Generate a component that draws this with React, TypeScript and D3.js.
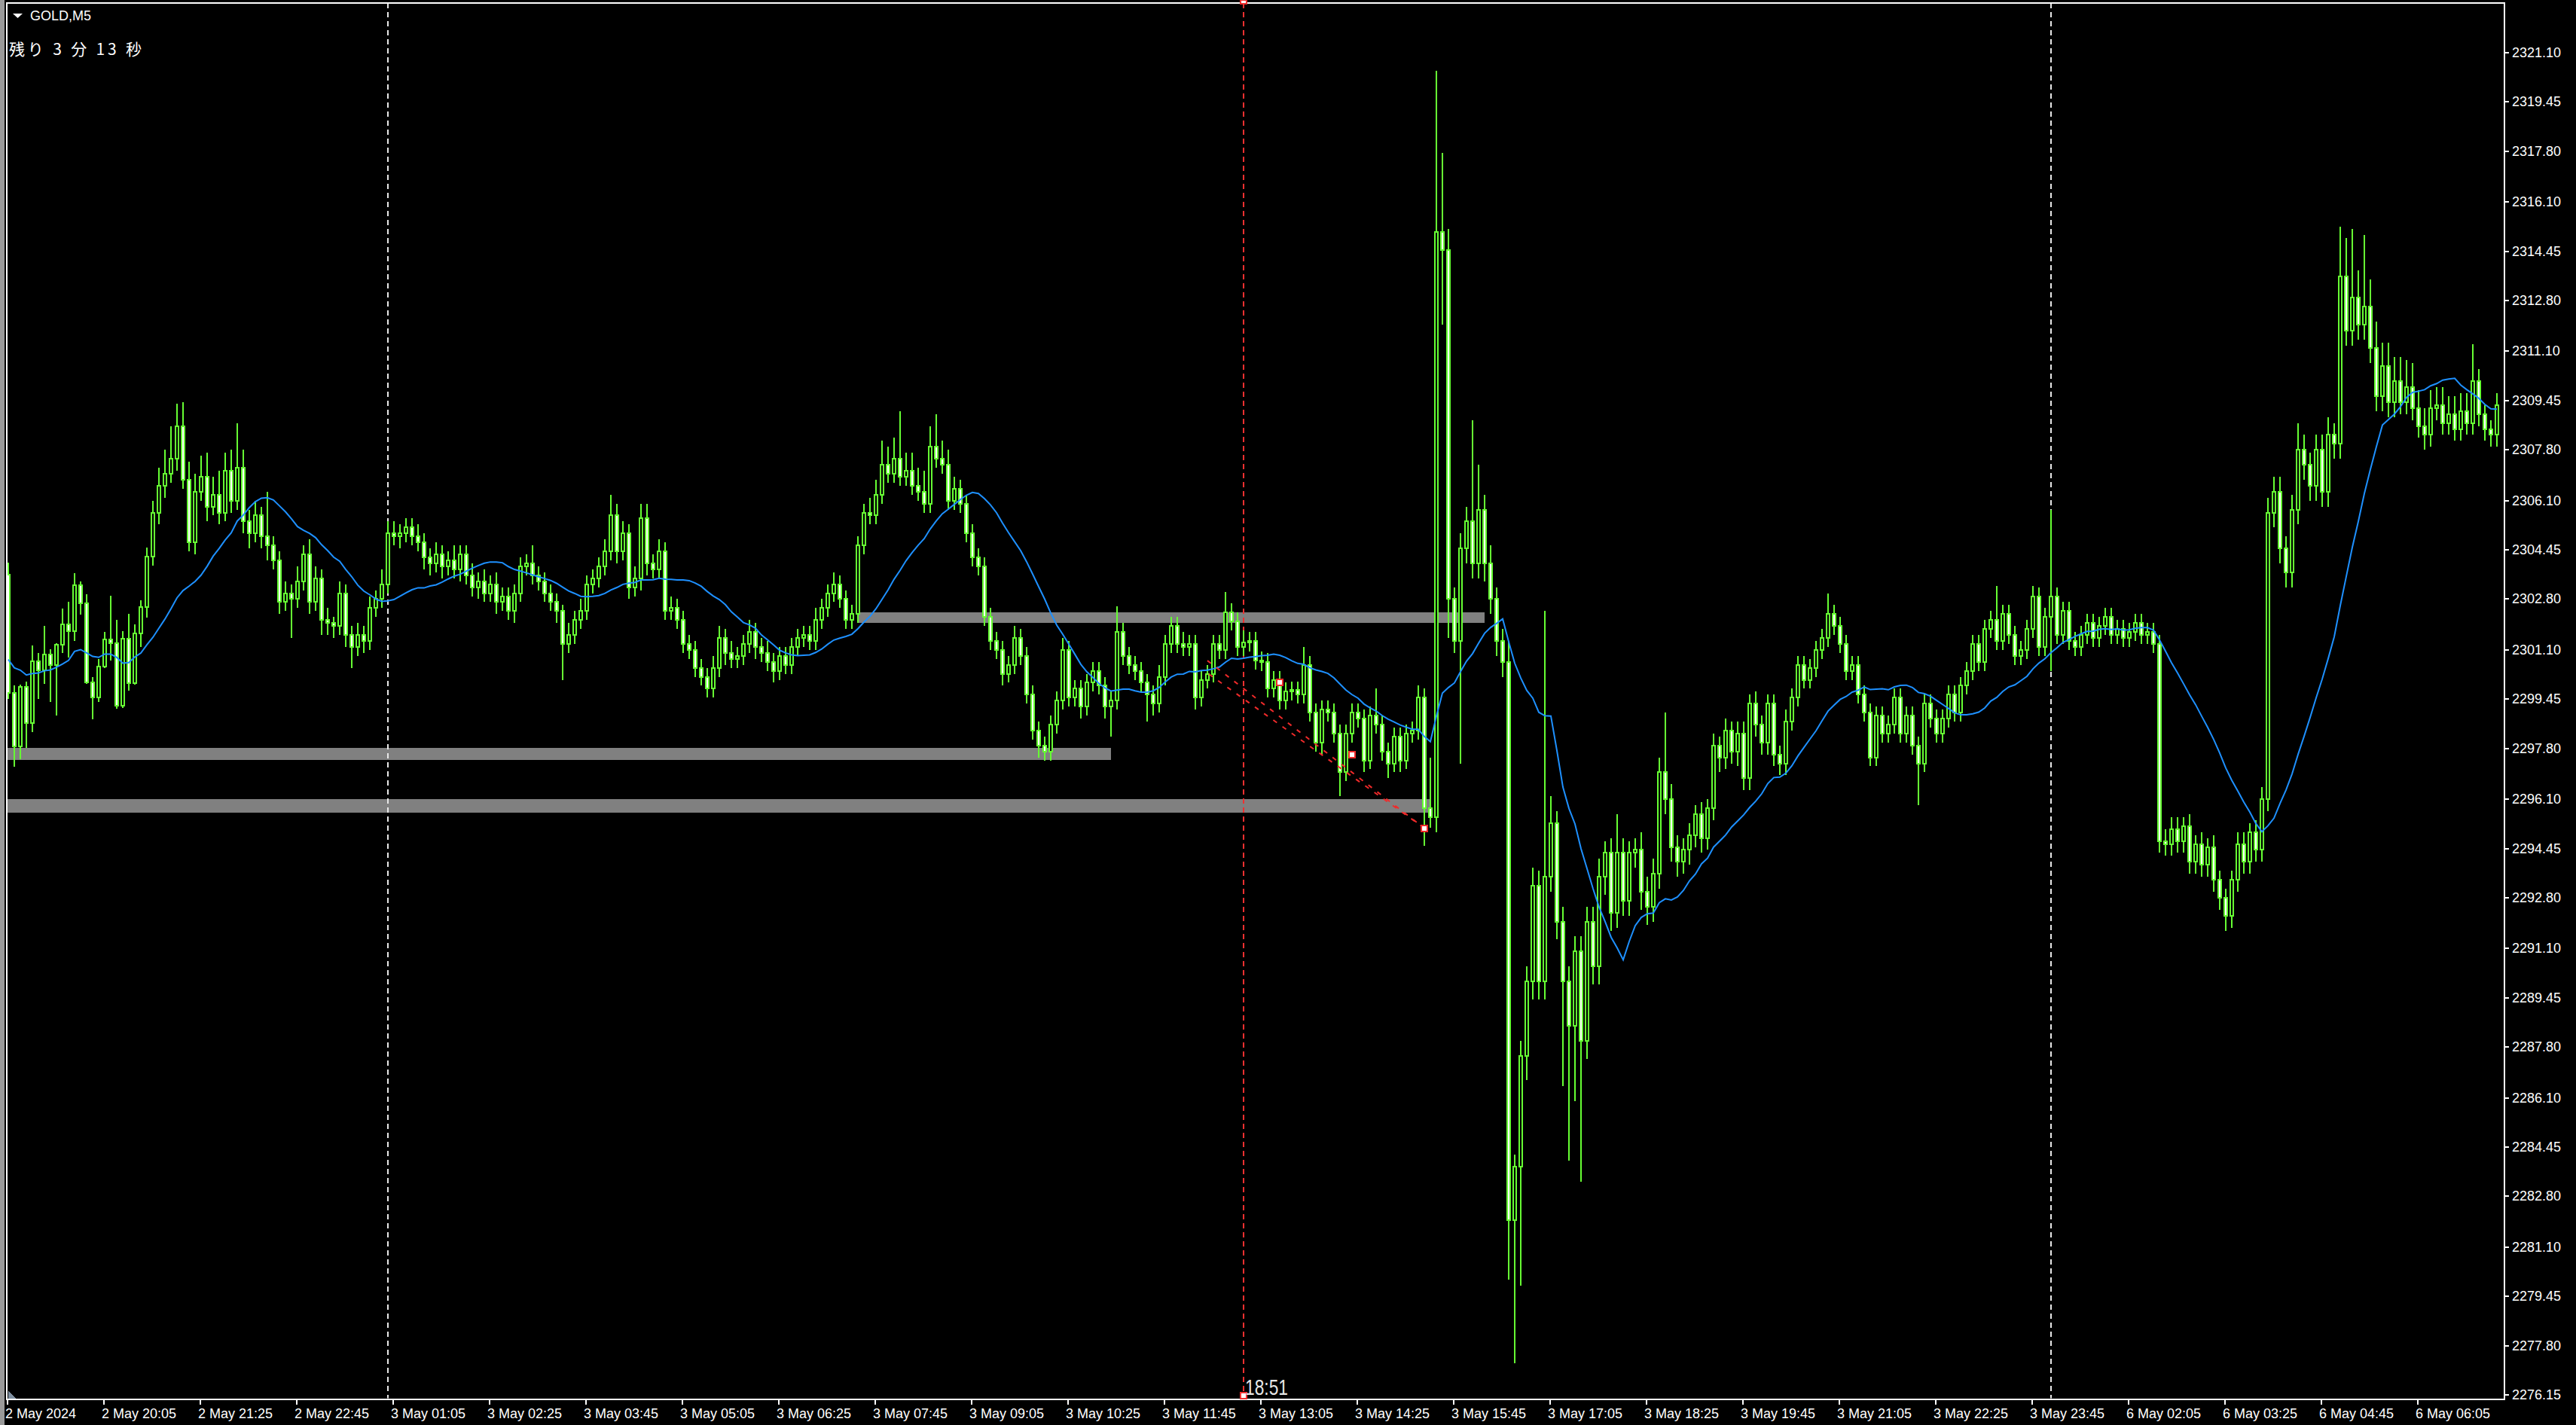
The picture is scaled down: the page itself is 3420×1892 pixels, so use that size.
import React from 'react';
import * as d3 from 'd3';

// ---------- data (GOLD M5) ----------
const firstOpen = 2303.61;

const closes = [
  2299.66, 2297.88, 2299.87, 2298.65, 2300.73, 2300.42, 2300.94, 2300.58, 2301.28, 2301.95,
  2301.72, 2303.26, 2302.65, 2300.01, 2299.51, 2300.53, 2301.44, 2301.32, 2299.24, 2301.48,
  2299.99, 2301.64, 2302.54, 2304.22, 2305.7, 2306.6, 2307.0, 2307.5, 2308.6, 2306.8,
  2304.7, 2306.4, 2306.9, 2305.9, 2306.3, 2305.7, 2307.1, 2306.1, 2307.2, 2305.4,
  2305.0, 2305.6, 2304.9, 2304.6, 2304.1, 2302.7, 2303.0, 2302.8, 2303.4, 2304.3,
  2302.7, 2303.5, 2302.1, 2302.0, 2301.9, 2303.0, 2301.6, 2301.2, 2301.6, 2301.4,
  2302.5, 2302.8, 2303.3, 2305.0, 2304.9, 2305.0, 2305.2, 2304.9, 2304.7, 2304.2,
  2304.0, 2304.3, 2303.9, 2304.1, 2303.8, 2304.3, 2303.6, 2303.2, 2303.4, 2303.0,
  2303.3, 2302.7, 2302.9, 2302.4, 2303.0, 2303.9, 2304.0, 2303.6, 2303.4, 2303.0,
  2302.7, 2302.4, 2301.3, 2301.6, 2302.1, 2302.4, 2303.3, 2303.5, 2303.9, 2304.4,
  2305.6, 2304.4, 2305.0, 2303.2, 2303.5, 2305.5, 2304.0, 2303.8, 2304.4, 2302.4,
  2302.5, 2302.1, 2301.3, 2301.1, 2300.5, 2300.2, 2299.8, 2300.5, 2301.5, 2301.0,
  2300.8, 2300.9, 2301.3, 2301.7, 2301.2, 2301.0, 2300.7, 2300.4, 2300.9, 2300.6,
  2301.2, 2301.5, 2301.6, 2301.4, 2302.1, 2302.5, 2303.0, 2303.3, 2302.8, 2302.1,
  2302.3, 2304.6, 2305.7, 2305.6, 2306.3, 2307.3, 2307.0, 2307.5, 2306.9, 2307.1,
  2306.6, 2306.4, 2306.0, 2307.9, 2307.5, 2307.3, 2306.1, 2306.5, 2306.0, 2305.0,
  2304.2, 2303.9, 2302.2, 2301.4, 2301.1, 2300.3, 2300.6, 2301.5, 2300.9, 2299.6,
  2298.4, 2297.9, 2297.7, 2298.6, 2299.4, 2301.1, 2299.5, 2299.8, 2299.2, 2300.0,
  2300.4, 2299.9, 2299.2, 2299.4, 2301.7, 2300.9, 2300.6, 2300.4, 2300.0, 2299.6,
  2299.3, 2300.2, 2301.3, 2301.9, 2301.3, 2301.2, 2301.3, 2299.5, 2300.1, 2300.3,
  2301.3, 2301.1, 2302.35, 2302.05, 2301.2, 2301.35, 2301.4, 2300.75, 2300.7, 2299.8,
  2300.1, 2299.4, 2299.7, 2299.75, 2299.6, 2300.6, 2299.0, 2298.0, 2299.1, 2299.0,
  2298.3, 2297.0, 2298.3, 2299.0, 2298.8, 2297.4, 2298.9, 2298.6, 2297.7, 2297.3,
  2298.2, 2297.4, 2298.3, 2298.4, 2299.5, 2295.8, 2295.5, 2315.1, 2314.5, 2302.8,
  2301.4, 2304.5, 2305.4, 2304.0, 2305.8, 2304.0, 2302.8, 2301.4, 2300.7, 2282.0,
  2283.8, 2287.5, 2290.0, 2293.2, 2290.0, 2293.5, 2295.3, 2292.0, 2290.0, 2288.5,
  2291.0, 2288.0, 2292.0, 2290.5, 2293.5, 2294.3, 2292.3, 2294.3, 2292.7, 2294.3,
  2294.4, 2293.0, 2292.5, 2293.6, 2297.0, 2296.1, 2294.5, 2294.0, 2294.4, 2294.9,
  2295.6, 2294.8, 2295.8, 2297.9, 2297.5, 2298.4, 2297.7, 2298.3, 2296.8, 2299.3,
  2298.6, 2298.0, 2299.3, 2297.6, 2297.3, 2298.7, 2299.5, 2300.6, 2300.1, 2300.5,
  2301.1, 2301.5, 2302.3, 2301.9, 2301.3, 2300.4, 2300.6, 2299.6, 2299.0, 2297.5,
  2298.9, 2298.3, 2298.6, 2299.5, 2298.3, 2298.9, 2297.9, 2297.3, 2299.3, 2298.8,
  2298.3, 2298.8, 2299.6, 2299.0, 2299.9, 2300.4, 2301.3, 2300.7, 2301.8, 2302.1,
  2301.4, 2302.3, 2301.6, 2300.9, 2301.1, 2301.8, 2302.9, 2301.2, 2302.2, 2302.9,
  2301.6, 2302.4, 2301.4, 2301.2, 2301.6, 2302.0, 2301.5, 2301.9, 2302.2, 2301.6,
  2301.8, 2301.5, 2301.7, 2302.0, 2301.6, 2301.7, 2301.3, 2294.7, 2294.6, 2295.1,
  2294.7, 2295.2, 2294.0, 2294.6, 2293.9, 2294.5, 2293.4, 2292.8, 2292.2, 2293.4,
  2294.6, 2294.0, 2295.0, 2294.4, 2296.1, 2305.7, 2306.4, 2304.5, 2303.7, 2305.8,
  2307.8, 2307.3, 2306.6, 2307.8, 2306.4, 2308.3, 2308.0, 2313.6, 2311.8, 2312.9,
  2312.0, 2312.6, 2311.2, 2309.6, 2310.6, 2309.4, 2310.1, 2309.4, 2309.9, 2309.2,
  2308.6, 2308.3, 2309.2, 2309.3, 2308.7, 2309.0, 2308.5, 2309.1, 2308.7, 2310.1,
  2309.0, 2308.5, 2308.3, 2309.3,
];

// wick lengths above the body top / below the body bottom (price units)
const upperWicks = [
  .42, .25, .06, .17, .53, .27, .96, .19, .05, .53,
  .76, .41, .12, .31, .18, .27, .25, 1.47, .78, .26,
  .83, .31, .21, .3, .4, .6, .8, 1.1, .75, .8,
  .6, .6, .7, .8, .6, .8, .6, .7, 1.5, .6,
  .4, .5, .3, 1.5, .3, .3, .4, .3, .5, .3,
  .5, .4, .3, .4, .2, .4, .3, .3, .4, .3,
  .4, .3, .5, .4, .4, .3, .3, .3, .4, .3,
  .3, .4, .3, .3, .5, .3, .3, .4, .3, .4,
  .3, .4, .3, .3, .3, .3, .3, .6, .3, .3,
  .3, .3, .2, .4, .3, .4, .3, .3, .3, .4,
  .7, .4, .4, .3, .4, .5, .5, .3, .4, .3,
  .4, .3, .3, .3, .3, .3, .3, .4, .4, .3,
  .4, .3, .3, .4, .3, .3, .4, .3, .3, .3,
  .3, .3, .3, .3, .4, .3, .3, .4, .3, .3,
  .3, .3, .3, .5, .5, .8, .6, .7, 1.6, .6,
  .6, .6, .7, .7, 1.1, .6, .5, .4, .3, .3,
  .3, .3, .3, .3, .3, .3, .3, .4, .3, .3,
  .3, .3, .3, .3, .3, .4, .3, .3, .3, .3,
  .3, .3, .3, .3, .85, .3, .3, .3, .3, .3,
  .3, .4, .3, .3, .3, .4, .3, .3, .3, .3,
  .3, .3, .7, .3, .3, .4, .3, .3, .3, .3,
  .3, .3, .3, .3, .3, .6, .3, .3, .3, .3,
  .3, .3, .3, .3, .3, .3, .3, .9, .3, .3,
  .3, .3, .3, .3, .4, .3, 1.7, 5.4, 2.65, .7,
  .4, .5, .5, 3.4, 1.5, .5, .6, .4, .4, .7,
  .4, .5, .5, .6, .5, 8.9, .9, .4, .5, .5,
  .5, .5, .5, .5, .6, .4, .5, 1.3, .5, .4,
  .4, .6, .5, .5, .5, 2.0, .5, .4, .4, .4,
  .3, .4, .3, .4, .3, .4, .3, .4, .4, .3,
  .4, .3, .3, .3, .3, .4, .3, .3, .3, .3,
  .3, .3, .7, .3, .3, .3, .3, .3, .3, .3,
  .3, .3, .3, .3, .3, .3, .3, .3, .3, .3,
  .3, .3, .3, .3, .3, .3, .3, .3, .3, .3,
  1.15, .3, .3, .3, .3, .3, .35, .3, .3, 2.9,
  .3, .3, .3, .3, .3, .3, .3, .3, .3, .3,
  .3, .3, .3, .3, .3, .3, .3, .3, .4, .4,
  .4, .3, .4, .3, .4, .3, .4, .3, .3, .3,
  .4, .4, .3, .4, .4, .5, .5, .5, .4, .5,
  .9, .5, .4, .5, .5, .6, .4, 1.67, 1.3, 2.3,
  .9, 2.4, .9, .9, .8, .8, .8, .8, .9, .8,
  .6, .6, .6, .6, .6, .6, .6, .6, .6, 1.25,
  .4, .3, .3, .4,
];

const lowerWicks = [
  .21, .7, .45, .84, .29, .97, .45, 1.23, 1.68, .28,
  .87, .31, .38, .05, .73, .16, .03, .57, .1, .09,
  .25, .05, .43, .36, .3, .4, .4, .3, .4, .3,
  .3, .4, .3, .5, .3, .4, .3, .4, .3, .4,
  .5, .3, .4, .5, .3, .4, .3, 1.3, .3, .3,
  .4, .3, .5, .4, .4, .3, .4, .7, .3, .4,
  .3, .3, .3, .3, .3, .4, .3, .3, .3, .4,
  .4, .3, .4, .3, .3, .4, .3, .3, .4, .3,
  .3, .4, .3, .3, .4, .3, .3, .3, .3, .3,
  .3, .4, 1.2, .3, .3, .3, .3, .3, .3, .3,
  .3, .4, .3, .4, .3, .4, .4, .3, .3, .3,
  .3, .3, .3, .3, .3, .3, .3, .3, .3, .4,
  .3, .3, .3, .3, .4, .3, .3, .4, .3, .3,
  .3, .3, .3, .3, .3, .3, .3, .3, .3, .3,
  .3, .3, .3, .3, .3, .3, .3, .3, .3, .3,
  .3, .3, .3, .3, .3, .3, .3, .3, .3, .3,
  .3, .3, .3, .3, .3, .4, .3, .3, .3, .3,
  .3, .4, .3, .3, .3, .3, .3, .3, .4, .3,
  .3, .3, .4, 1.0, .3, .3, .3, .3, .3, .9,
  .4, .3, .3, .3, .3, .3, .3, .4, .3, .3,
  .3, .3, .3, .3, .3, .3, .3, .3, .3, .3,
  .3, .3, .3, .3, .3, .3, .3, .3, .4, .3,
  .3, .8, .3, .3, .3, .4, .3, .3, .3, .5,
  .3, .4, .3, .3, .3, 1.27, .35, .5, 2.5, 1.3,
  .4, 4.1, .5, .5, .5, .6, .5, .5, .5, 2.0,
  4.8, 4.0, .8, .6, .6, .6, .5, .6, 3.5, 4.5,
  2.5, 4.7, .6, .6, .6, .6, .6, .5, .5, .5,
  .5, .6, .6, .5, .5, .5, .5, .5, .4, .5,
  .4, .5, .4, .4, .5, .4, .4, .5, .4, .4,
  .4, .4, .4, .4, .4, .4, .3, .3, .3, .3,
  .3, .3, .3, .3, .3, .3, .3, .3, .3, .3,
  .3, .3, .3, .3, .3, .3, .3, 1.4, .3, .3,
  .3, .3, .3, .3, .3, .3, .3, .3, .3, .3,
  .3, .3, .3, .3, .3, .3, .3, .3, .3, 1.8,
  .3, .3, .3, .3, .3, .3, .3, .3, .3, .3,
  .3, .3, .3, .3, .3, .3, .3, .4, .4, .4,
  .4, .4, .4, .4, .4, .4, .4, .4, .5, .4,
  .4, .4, .4, .4, .4, .4, .5, .5, .5, .5,
  .5, .5, .5, .5, .5, .5, .5, .5, .5, .5,
  .5, .5, .5, .5, .5, .5, .5, .4, .4, .4,
  .4, .5, .4, .4, .4, .4, .4, .4, .4, .4,
  .4, .4, .4, .4,
];

// moving-average values at the left edge (before a full window exists)
const maLead = [
  2300.78, 2300.5, 2300.42, 2300.26, 2300.31, 2300.33, 2300.4, 2300.43, 2300.52, 2300.63,
  2300.75, 2301.05, 2301.11, 2301.0, 2300.88, 2300.85, 2300.96, 2300.96, 2300.85,
];
const maPeriod = 20;

const priceTicks = [
  '2321.10', '2319.45', '2317.80', '2316.10', '2314.45', '2312.80', '2311.10', '2309.45',
  '2307.80', '2306.10', '2304.45', '2302.80', '2301.10', '2299.45', '2297.80', '2296.10',
  '2294.45', '2292.80', '2291.10', '2289.45', '2287.80', '2286.10', '2284.45', '2282.80',
  '2281.10', '2279.45', '2277.80', '2276.15',
];

const timeLabels = [
  '2 May 2024', '2 May 20:05', '2 May 21:25', '2 May 22:45', '3 May 01:05', '3 May 02:25',
  '3 May 03:45', '3 May 05:05', '3 May 06:25', '3 May 07:45', '3 May 09:05', '3 May 10:25',
  '3 May 11:45', '3 May 13:05', '3 May 14:25', '3 May 15:45', '3 May 17:05', '3 May 18:25',
  '3 May 19:45', '3 May 21:05', '3 May 22:25', '3 May 23:45', '6 May 02:05', '6 May 03:25',
  '6 May 04:45', '6 May 06:05',
];
const timeLabelStep = 16;

const daySeparators = [63, 339];
const cursorBar = 205;
const cursorTime = '18:51';

const rectFrom = [141, -5, -5];
const rectTo = [245, 183, 236];
const rectLow = [2302.01, 2297.41, 2295.65];
const rectHigh = [2302.36, 2297.82, 2296.10];

const trendStartBar = [199, 199.25];
const trendStartPrice = [2300.74, 2300.29];
const trendEndBar = [234.6, 234.6];
const trendEndPrice = [2295.19, 2295.19];

const anchorBars = [211, 223, 235];
const anchorPrices = [2300.01, 2297.59, 2295.12];

// ---------- drawing ----------
const W = 3420;
const H = 1892;
const GREEN = '#66ff33';
const FONT = '"Liberation Sans", Arial, sans-serif';

export default function App() {
  const frame = { left: 9, top: 4, right: 3324.5, bottom: 1857.5 };
  const x = d3.scaleLinear().domain([0, 1]).range([11, 19]);
  const y = d3.scaleLinear().domain([2276.15, 2321.1]).range([1852, 70]);

  const candles = closes.map((c, i) => {
    const o = i === 0 ? firstOpen : closes[i - 1];
    const top = Math.max(o, c);
    const bot = Math.min(o, c);
    return { i, o, c, h: top + upperWicks[i], l: bot - lowerWicks[i] };
  });

  const ma = closes.map((_, i) =>
    i < maLead.length ? maLead[i] : (d3.mean(closes.slice(i - maPeriod + 1, i + 1)) as number)
  );
  const maPath = d3
    .line<number>()
    .x((_, i) => x(i))
    .y((d) => y(d))(ma) as string;

  const cx = x(cursorBar);

  return (
    <svg
      width={W}
      height={H}
      style={{ position: 'absolute', left: 0, top: 0, display: 'block', background: '#000' }}
      shapeRendering="crispEdges"
    >
      <rect x={0} y={0} width={W} height={H} fill="#000" />
      <defs>
        <clipPath id="plot">
          <rect x={frame.left + 1} y={frame.top + 1} width={frame.right - frame.left - 2} height={frame.bottom - frame.top - 2} />
        </clipPath>
      </defs>
      {/* window edge */}
      <rect x={0} y={0} width={6} height={H} fill="#9a9a9a" />

      <g clipPath="url(#plot)">
        {rectFrom.map((f, k) => (
          <rect
            key={'r' + k}
            x={x(f)}
            y={y(rectHigh[k])}
            width={x(rectTo[k]) - x(f)}
            height={y(rectLow[k]) - y(rectHigh[k])}
            fill="#808080"
          />
        ))}
        {daySeparators.map((b) => (
          <line key={'s' + b} x1={x(b)} x2={x(b)} y1={frame.top} y2={frame.bottom} stroke="#e8e8e8" strokeWidth={1.5} strokeDasharray="7 5" />
        ))}
        <line x1={cx} x2={cx} y1={frame.top} y2={frame.bottom} stroke="#f03030" strokeWidth={2} strokeDasharray="7 5" />

        {candles.map((d) => {
          const X = x(d.i);
          const yt = y(Math.max(d.o, d.c));
          const yb = y(Math.min(d.o, d.c));
          const bull = d.c > d.o;
          return (
            <g key={d.i}>
              <rect x={X - 1} y={y(d.h)} width={2} height={y(d.l) - y(d.h)} fill={GREEN} />
              <rect
                x={X - 2}
                y={yt}
                width={4}
                height={Math.max(yb - yt, 0.01)}
                fill={bull ? '#000' : '#fff'}
                stroke={GREEN}
                strokeWidth={2}
              />
            </g>
          );
        })}

        <path d={maPath} fill="none" stroke="#1e90ff" strokeWidth={2} shapeRendering="auto" />

        {trendStartBar.map((b, k) => (
          <line
            key={'t' + k}
            x1={x(b)}
            y1={y(trendStartPrice[k])}
            x2={x(trendEndBar[k])}
            y2={y(trendEndPrice[k])}
            stroke="#f02a2a"
            strokeWidth={2}
            strokeDasharray="6 9"
            shapeRendering="auto"
          />
        ))}
        {anchorBars.map((b, k) => (
          <rect key={'a' + k} x={x(b) - 4} y={y(anchorPrices[k]) - 4} width={8} height={8} fill="#fff" stroke="#f02a2a" strokeWidth={1.5} />
        ))}
      </g>

      {/* frame */}
      <rect
        x={frame.left}
        y={frame.top}
        width={frame.right - frame.left}
        height={frame.bottom - frame.top}
        fill="none"
        stroke="#fff"
        strokeWidth={2}
      />

      {/* price axis */}
      {priceTicks.map((t) => {
        const yy = Math.round(y(parseFloat(t)));
        return (
          <g key={t}>
            <line x1={frame.right + 1} x2={frame.right + 6} y1={yy} y2={yy} stroke="#fff" strokeWidth={2} />
            <text x={3335} y={yy} dy="0.36em" fill="#fff" fontSize={18} fontFamily={FONT}>
              {t}
            </text>
          </g>
        );
      })}

      {/* time axis */}
      {timeLabels.map((t, k) => {
        const xx = x(k * timeLabelStep) - 1;
        return (
          <g key={t}>
            <line x1={xx} x2={xx} y1={frame.bottom + 1} y2={frame.bottom + 7} stroke="#fff" strokeWidth={2} />
            <text x={xx - 3} y={1883} fill="#fff" fontSize={18} fontFamily={FONT}>
              {t}
            </text>
          </g>
        );
      })}

      {/* cursor time marker */}
      <rect x={cx - 4} y={0} width={8} height={5} fill="#fff" stroke="#f03030" strokeWidth={1.5} />
      <rect x={cx - 4} y={1849} width={8} height={8} fill="#fff" stroke="#f03030" strokeWidth={1.5} />
      <text x={cx + 2} y={1852} fill="#e6e6e6" fontSize={29} fontFamily={FONT} textLength={57} lengthAdjust="spacingAndGlyphs">
        {cursorTime}
      </text>

      {/* small corner marker */}
      <polygon points="11,1846 11,1857 21,1857" fill="#7f8fa0" />

      {/* header */}
      <polygon points="17,18 30,18 23.5,24" fill="#fff" shapeRendering="auto" />
      <text x={40} y={27} fill="#fff" fontSize={18} fontFamily={FONT}>
        GOLD,M5
      </text>
      <text
        x={12}
        y={73}
        fill="#fff"
        fontSize={21}
        fontFamily={'"Noto Sans CJK JP", sans-serif'}
        textLength={176}
        lengthAdjust="spacing"
      >
        残り 3 分 13 秒
      </text>
    </svg>
  );
}
